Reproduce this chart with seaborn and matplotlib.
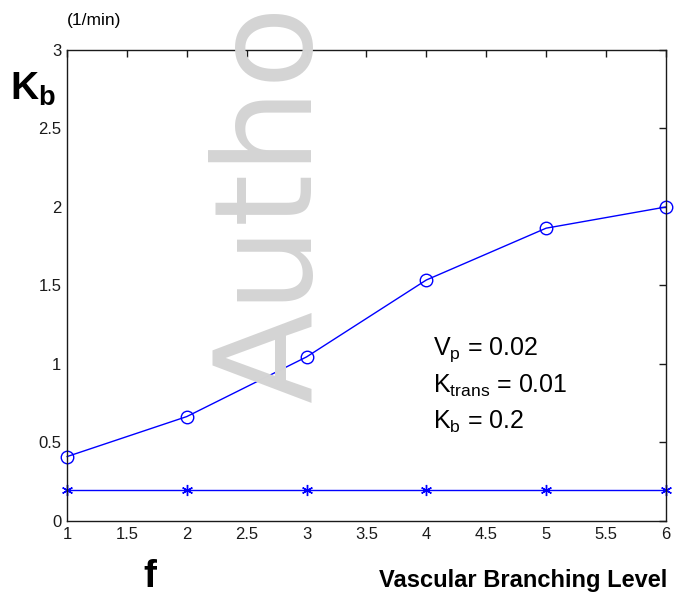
import numpy as np
import matplotlib
matplotlib.use("Agg")
import matplotlib.pyplot as plt
import seaborn as sns

# ---------- data ----------
levels = [1, 2, 3, 4, 5, 6]
kb_fitted = [0.41, 0.665, 1.045, 1.535, 1.865, 2.0]
kb_true = [0.2, 0.2, 0.2, 0.2, 0.2, 0.2]

x_ticks = [1, 1.5, 2, 2.5, 3, 3.5, 4, 4.5, 5, 5.5, 6]
x_tick_labels = ["1", "1.5", "2", "2.5", "3", "3.5", "4", "4.5", "5", "5.5", "6"]
y_ticks = [0, 0.5, 1, 1.5, 2, 2.5, 3]
y_tick_labels = ["0", "0.5", "1", "1.5", "2", "2.5", "3"]

sns.set_style("white")
plt.rcParams["font.family"] = ["Liberation Sans", "DejaVu Sans"]
plt.rcParams["mathtext.fontset"] = "custom"
plt.rcParams["mathtext.rm"] = "Liberation Sans"
plt.rcParams["mathtext.bf"] = "Liberation Sans:bold"
plt.rcParams["text.color"] = "black"

fig = plt.figure(figsize=(6.74, 5.95), dpi=100)
ax = fig.add_axes([0.0994, 0.1244, 0.8886, 0.7916])
ax.set_facecolor("none")

# watermark behind everything
fig.text(0.405, 1 - 402 / 595, "Author", rotation=90, fontsize=97,
         family="DejaVu Sans", color="#d4d4d4", ha="center", va="bottom",
         zorder=0)

sns.lineplot(x=levels, y=kb_fitted, ax=ax, color="#0000ff", linewidth=1,
             marker="o", markersize=9, markerfacecolor="none",
             markeredgecolor="#0000ff", markeredgewidth=1, clip_on=False)
sns.lineplot(x=levels, y=kb_true, ax=ax, color="#0000ff", linewidth=1,
             marker=(6, 2, 0), markersize=8, markeredgecolor="#0000ff",
             markeredgewidth=1, clip_on=False)

ax.set_xlim(1, 6)
ax.set_ylim(0, 3)
ax.set_xticks(x_ticks)
ax.set_xticklabels(x_tick_labels)
ax.set_yticks(y_ticks)
ax.set_yticklabels(y_tick_labels)
ax.tick_params(direction="in", length=5, width=1, colors="#1a1a1a",
               labelsize=12, top=True, right=True, pad=4)
for sp in ax.spines.values():
    sp.set_color("#1a1a1a")
    sp.set_linewidth(1)
    sp.set_visible(True)
ax.set_xlabel("")
ax.set_ylabel("")

# annotation block
ax.text(433 / 674, 1 - 350 / 595, r"V$_\mathregular{p}$ = 0.02", transform=fig.transFigure,
        fontsize=18, va="center", ha="left")
ax.text(433 / 674, 1 - 386 / 595, r"K$_\mathregular{trans}$ = 0.01", transform=fig.transFigure,
        fontsize=18, va="center", ha="left")
ax.text(433 / 674, 1 - 422 / 595, r"K$_\mathregular{b}$ = 0.2", transform=fig.transFigure,
        fontsize=18, va="center", ha="left")

# axis labels
fig.text(10 / 674, 1 - 100 / 595, r"K$_\mathbf{b}$", fontsize=28,
         fontweight="bold", ha="left", va="baseline")
fig.text(67 / 674, 1 - 21 / 595, "(1/min)", fontsize=12.5, ha="left", va="center")
fig.text(150 / 674, 1 - 587 / 595, "f", fontsize=28, fontweight="bold",
         ha="center", va="baseline")
fig.text(667 / 674, 1 - 587 / 595, "Vascular Branching Level", fontsize=17,
         fontweight="bold", ha="right", va="baseline")

plt.savefig("out.png", dpi=100)
